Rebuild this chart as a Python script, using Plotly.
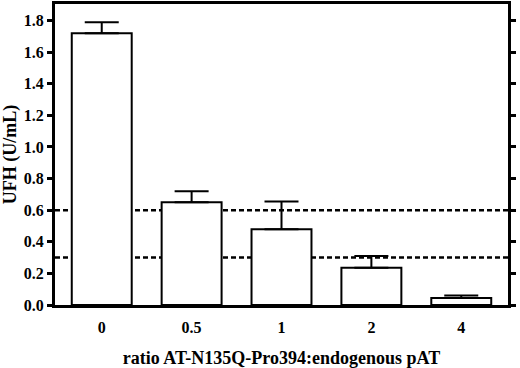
import plotly.graph_objects as go

categories = ["0", "0.5", "1", "2", "4"]
ufh_values = [1.72, 0.65, 0.48, 0.235, 0.045]
ufh_errors = [0.07, 0.07, 0.175, 0.075, 0.015]
reference_levels = [0.6, 0.3]

font_family = "Liberation Serif, Times New Roman, serif"

fig = go.Figure()
fig.add_trace(go.Bar(
    x=list(range(len(categories))),
    y=ufh_values,
    width=0.667,
    marker=dict(color="white", line=dict(color="black", width=2)),
    error_y=dict(type="data", symmetric=False, array=ufh_errors,
                 arrayminus=[0] * len(ufh_errors),
                 color="black", thickness=2, width=17),
    showlegend=False,
    hoverinfo="skip",
))

for lvl in reference_levels:
    fig.add_shape(type="line", xref="paper", yref="y", x0=0, x1=1, y0=lvl, y1=lvl,
                  line=dict(color="black", width=2.5, dash="5px,3px"), layer="below")

fig.update_layout(
    width=520, height=368,
    margin=dict(l=55, r=12, t=4, b=63),
    paper_bgcolor="white", plot_bgcolor="white",
    font=dict(family=font_family, color="black"),
    xaxis=dict(
        range=[-0.52, 4.52], automargin=False,
        tickmode="array", tickvals=list(range(len(categories))), ticktext=categories,
        showline=True, linecolor="black", linewidth=3, mirror=True,
        ticks="", showgrid=False, zeroline=False, ticklabelstandoff=6,
        tickfont=dict(size=16, family=font_family, weight="bold"),
        title=dict(text="<b>ratio AT-N135Q-Pro394:endogenous pAT</b>",
                   font=dict(size=18, family=font_family), standoff=22),
    ),
    yaxis=dict(
        range=[0, 1.905], tick0=0, dtick=0.2, tickformat=".1f", automargin=False,
        showline=True, linecolor="black", linewidth=3, mirror="ticks",
        ticks="outside", ticklen=5, tickwidth=2.5, tickcolor="black",
        showgrid=False, zeroline=False,
        tickfont=dict(size=16, family=font_family, weight="bold"),
        title=dict(text="<b>UFH (U/mL)</b>", font=dict(size=18, family=font_family), standoff=6),
    ),
)

fig.write_html("out.html", config={"displayModeBar": False},
               post_script="document.body.style.margin='0';")
